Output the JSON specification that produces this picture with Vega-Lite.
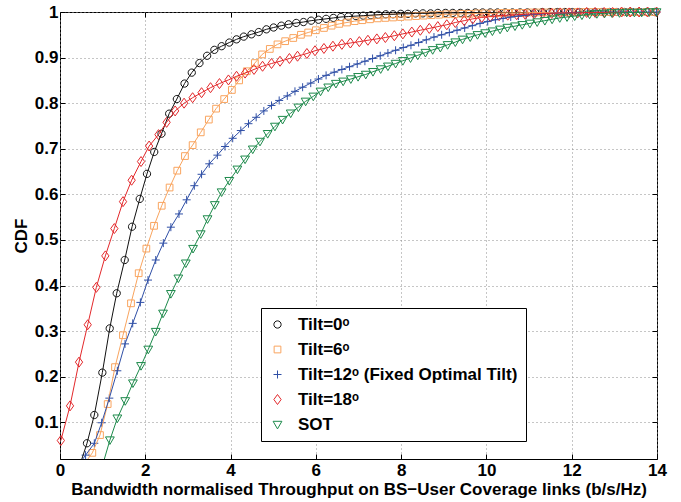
{
"$schema":"https://vega.github.io/schema/vega-lite/v6.json",
"width":597,"height":447,
"autosize":{"type":"none"},
"padding":{"left":60,"top":12,"right":24,"bottom":43},
"background":"white",
"config":{
 "view":{"stroke":"black","strokeWidth":1},
 "axis":{"labelFont":"Liberation Sans","labelFontSize":17,"labelFontWeight":"bold","labelColor":"black","titleFont":"Liberation Sans","titleFontSize":17,"titleFontWeight":"bold","titleColor":"black","gridColor":"#8c8c8c","gridDash":[1,3],"gridWidth":1,"domain":false,"tickColor":"black","tickSize":-5,"labelFlush":false,"labelOverlap":false},
 "legend":{"orient":"none","legendX":201,"legendY":296}
},
"data":{"values":[
{"s":"Tilt=0ᵒ","x":0.458,"y":0.004},{"s":"Tilt=0ᵒ","x":0.633,"y":0.054},{"s":"Tilt=0ᵒ","x":0.805,"y":0.116},{"s":"Tilt=0ᵒ","x":0.993,"y":0.209},{"s":"Tilt=0ᵒ","x":1.166,"y":0.306},{"s":"Tilt=0ᵒ","x":1.33,"y":0.383},{"s":"Tilt=0ᵒ","x":1.517,"y":0.456},{"s":"Tilt=0ᵒ","x":1.69,"y":0.529},{"s":"Tilt=0ᵒ","x":1.87,"y":0.59},{"s":"Tilt=0ᵒ","x":2.04,"y":0.645},{"s":"Tilt=0ᵒ","x":2.21,"y":0.693},{"s":"Tilt=0ᵒ","x":2.38,"y":0.733},{"s":"Tilt=0ᵒ","x":2.56,"y":0.777},{"s":"Tilt=0ᵒ","x":2.74,"y":0.809},{"s":"Tilt=0ᵒ","x":2.92,"y":0.843},{"s":"Tilt=0ᵒ","x":3.09,"y":0.867},{"s":"Tilt=0ᵒ","x":3.27,"y":0.888},{"s":"Tilt=0ᵒ","x":3.45,"y":0.904},{"s":"Tilt=0ᵒ","x":3.62,"y":0.917},{"s":"Tilt=0ᵒ","x":3.79,"y":0.925},{"s":"Tilt=0ᵒ","x":3.97,"y":0.933},{"s":"Tilt=0ᵒ","x":4.14,"y":0.94},{"s":"Tilt=0ᵒ","x":4.31,"y":0.946},{"s":"Tilt=0ᵒ","x":4.49,"y":0.951},{"s":"Tilt=0ᵒ","x":4.66,"y":0.956},{"s":"Tilt=0ᵒ","x":4.84,"y":0.962},{"s":"Tilt=0ᵒ","x":5.01,"y":0.966},{"s":"Tilt=0ᵒ","x":5.19,"y":0.97},{"s":"Tilt=0ᵒ","x":5.36,"y":0.973},{"s":"Tilt=0ᵒ","x":5.54,"y":0.976},{"s":"Tilt=0ᵒ","x":5.71,"y":0.978},{"s":"Tilt=0ᵒ","x":5.89,"y":0.981},{"s":"Tilt=0ᵒ","x":6.06,"y":0.983},{"s":"Tilt=0ᵒ","x":6.24,"y":0.985},{"s":"Tilt=0ᵒ","x":6.41,"y":0.987},{"s":"Tilt=0ᵒ","x":6.59,"y":0.989},{"s":"Tilt=0ᵒ","x":6.76,"y":0.99},{"s":"Tilt=0ᵒ","x":6.94,"y":0.991},{"s":"Tilt=0ᵒ","x":7.11,"y":0.992},{"s":"Tilt=0ᵒ","x":7.29,"y":0.993},{"s":"Tilt=0ᵒ","x":7.46,"y":0.994},{"s":"Tilt=0ᵒ","x":7.64,"y":0.995},{"s":"Tilt=0ᵒ","x":7.81,"y":0.995},{"s":"Tilt=0ᵒ","x":7.99,"y":0.996},{"s":"Tilt=0ᵒ","x":8.16,"y":0.996},{"s":"Tilt=0ᵒ","x":8.34,"y":0.997},{"s":"Tilt=0ᵒ","x":8.51,"y":0.997},{"s":"Tilt=0ᵒ","x":8.69,"y":0.997},{"s":"Tilt=0ᵒ","x":8.86,"y":0.998},{"s":"Tilt=0ᵒ","x":9.04,"y":0.998},{"s":"Tilt=0ᵒ","x":9.21,"y":0.998},{"s":"Tilt=0ᵒ","x":9.39,"y":0.998},{"s":"Tilt=0ᵒ","x":9.56,"y":0.998},{"s":"Tilt=0ᵒ","x":9.74,"y":0.999},{"s":"Tilt=0ᵒ","x":9.91,"y":0.999},{"s":"Tilt=0ᵒ","x":10.09,"y":0.999},{"s":"Tilt=0ᵒ","x":10.26,"y":0.999},{"s":"Tilt=0ᵒ","x":10.44,"y":0.999},{"s":"Tilt=0ᵒ","x":10.61,"y":0.999},{"s":"Tilt=0ᵒ","x":10.79,"y":0.999},{"s":"Tilt=0ᵒ","x":10.96,"y":0.999},{"s":"Tilt=0ᵒ","x":11.14,"y":0.999},{"s":"Tilt=0ᵒ","x":11.31,"y":1},{"s":"Tilt=0ᵒ","x":11.49,"y":1},{"s":"Tilt=0ᵒ","x":11.66,"y":1},{"s":"Tilt=0ᵒ","x":11.84,"y":1},{"s":"Tilt=0ᵒ","x":12.01,"y":1},{"s":"Tilt=0ᵒ","x":12.19,"y":1},{"s":"Tilt=0ᵒ","x":12.36,"y":1},{"s":"Tilt=0ᵒ","x":12.54,"y":1},{"s":"Tilt=0ᵒ","x":12.71,"y":1},{"s":"Tilt=0ᵒ","x":12.89,"y":1},{"s":"Tilt=0ᵒ","x":13.06,"y":1},{"s":"Tilt=0ᵒ","x":13.24,"y":1},{"s":"Tilt=0ᵒ","x":13.41,"y":1},{"s":"Tilt=0ᵒ","x":13.59,"y":1},{"s":"Tilt=0ᵒ","x":13.76,"y":1},{"s":"Tilt=0ᵒ","x":13.94,"y":1},
{"s":"Tilt=6ᵒ","x":0.58,"y":0.01},{"s":"Tilt=6ᵒ","x":0.758,"y":0.033},{"s":"Tilt=6ᵒ","x":0.938,"y":0.072},{"s":"Tilt=6ᵒ","x":1.118,"y":0.14},{"s":"Tilt=6ᵒ","x":1.29,"y":0.221},{"s":"Tilt=6ᵒ","x":1.477,"y":0.291},{"s":"Tilt=6ᵒ","x":1.665,"y":0.361},{"s":"Tilt=6ᵒ","x":1.845,"y":0.427},{"s":"Tilt=6ᵒ","x":2.025,"y":0.481},{"s":"Tilt=6ᵒ","x":2.205,"y":0.531},{"s":"Tilt=6ᵒ","x":2.385,"y":0.575},{"s":"Tilt=6ᵒ","x":2.57,"y":0.615},{"s":"Tilt=6ᵒ","x":2.75,"y":0.652},{"s":"Tilt=6ᵒ","x":2.93,"y":0.684},{"s":"Tilt=6ᵒ","x":3.11,"y":0.708},{"s":"Tilt=6ᵒ","x":3.3,"y":0.736},{"s":"Tilt=6ᵒ","x":3.49,"y":0.764},{"s":"Tilt=6ᵒ","x":3.66,"y":0.788},{"s":"Tilt=6ᵒ","x":3.85,"y":0.809},{"s":"Tilt=6ᵒ","x":4.03,"y":0.829},{"s":"Tilt=6ᵒ","x":4.2,"y":0.85},{"s":"Tilt=6ᵒ","x":4.38,"y":0.87},{"s":"Tilt=6ᵒ","x":4.57,"y":0.888},{"s":"Tilt=6ᵒ","x":4.74,"y":0.907},{"s":"Tilt=6ᵒ","x":4.92,"y":0.919},{"s":"Tilt=6ᵒ","x":5.1,"y":0.929},{"s":"Tilt=6ᵒ","x":5.28,"y":0.936},{"s":"Tilt=6ᵒ","x":5.47,"y":0.943},{"s":"Tilt=6ᵒ","x":5.65,"y":0.95},{"s":"Tilt=6ᵒ","x":5.82,"y":0.955},{"s":"Tilt=6ᵒ","x":6.0,"y":0.96},{"s":"Tilt=6ᵒ","x":6.19,"y":0.965},{"s":"Tilt=6ᵒ","x":6.37,"y":0.97},{"s":"Tilt=6ᵒ","x":6.55,"y":0.974},{"s":"Tilt=6ᵒ","x":6.73,"y":0.977},{"s":"Tilt=6ᵒ","x":6.91,"y":0.98},{"s":"Tilt=6ᵒ","x":7.09,"y":0.982},{"s":"Tilt=6ᵒ","x":7.27,"y":0.984},{"s":"Tilt=6ᵒ","x":7.45,"y":0.986},{"s":"Tilt=6ᵒ","x":7.63,"y":0.987},{"s":"Tilt=6ᵒ","x":7.81,"y":0.988},{"s":"Tilt=6ᵒ","x":7.99,"y":0.989},{"s":"Tilt=6ᵒ","x":8.17,"y":0.99},{"s":"Tilt=6ᵒ","x":8.35,"y":0.991},{"s":"Tilt=6ᵒ","x":8.53,"y":0.992},{"s":"Tilt=6ᵒ","x":8.71,"y":0.993},{"s":"Tilt=6ᵒ","x":8.89,"y":0.994},{"s":"Tilt=6ᵒ","x":9.07,"y":0.995},{"s":"Tilt=6ᵒ","x":9.25,"y":0.995},{"s":"Tilt=6ᵒ","x":9.43,"y":0.996},{"s":"Tilt=6ᵒ","x":9.61,"y":0.996},{"s":"Tilt=6ᵒ","x":9.79,"y":0.997},{"s":"Tilt=6ᵒ","x":9.97,"y":0.997},{"s":"Tilt=6ᵒ","x":10.15,"y":0.997},{"s":"Tilt=6ᵒ","x":10.33,"y":0.998},{"s":"Tilt=6ᵒ","x":10.51,"y":0.998},{"s":"Tilt=6ᵒ","x":10.69,"y":0.998},{"s":"Tilt=6ᵒ","x":10.87,"y":0.998},{"s":"Tilt=6ᵒ","x":11.05,"y":0.999},{"s":"Tilt=6ᵒ","x":11.23,"y":0.999},{"s":"Tilt=6ᵒ","x":11.41,"y":0.999},{"s":"Tilt=6ᵒ","x":11.59,"y":0.999},{"s":"Tilt=6ᵒ","x":11.77,"y":0.999},{"s":"Tilt=6ᵒ","x":11.95,"y":0.999},{"s":"Tilt=6ᵒ","x":12.13,"y":1},{"s":"Tilt=6ᵒ","x":12.31,"y":1},{"s":"Tilt=6ᵒ","x":12.49,"y":1},{"s":"Tilt=6ᵒ","x":12.67,"y":1},{"s":"Tilt=6ᵒ","x":12.85,"y":1},{"s":"Tilt=6ᵒ","x":13.03,"y":1},{"s":"Tilt=6ᵒ","x":13.21,"y":1},{"s":"Tilt=6ᵒ","x":13.39,"y":1},{"s":"Tilt=6ᵒ","x":13.57,"y":1},{"s":"Tilt=6ᵒ","x":13.75,"y":1},{"s":"Tilt=6ᵒ","x":13.93,"y":1},
{"s":"Tilt=12ᵒ (Fixed Optimal Tilt)","x":0.42,"y":0.005},{"s":"Tilt=12ᵒ (Fixed Optimal Tilt)","x":0.6,"y":0.028},{"s":"Tilt=12ᵒ (Fixed Optimal Tilt)","x":0.805,"y":0.054},{"s":"Tilt=12ᵒ (Fixed Optimal Tilt)","x":0.977,"y":0.099},{"s":"Tilt=12ᵒ (Fixed Optimal Tilt)","x":1.157,"y":0.153},{"s":"Tilt=12ᵒ (Fixed Optimal Tilt)","x":1.345,"y":0.213},{"s":"Tilt=12ᵒ (Fixed Optimal Tilt)","x":1.525,"y":0.272},{"s":"Tilt=12ᵒ (Fixed Optimal Tilt)","x":1.705,"y":0.317},{"s":"Tilt=12ᵒ (Fixed Optimal Tilt)","x":1.885,"y":0.363},{"s":"Tilt=12ᵒ (Fixed Optimal Tilt)","x":2.064,"y":0.412},{"s":"Tilt=12ᵒ (Fixed Optimal Tilt)","x":2.245,"y":0.456},{"s":"Tilt=12ᵒ (Fixed Optimal Tilt)","x":2.423,"y":0.493},{"s":"Tilt=12ᵒ (Fixed Optimal Tilt)","x":2.6,"y":0.528},{"s":"Tilt=12ᵒ (Fixed Optimal Tilt)","x":2.79,"y":0.557},{"s":"Tilt=12ᵒ (Fixed Optimal Tilt)","x":2.97,"y":0.588},{"s":"Tilt=12ᵒ (Fixed Optimal Tilt)","x":3.15,"y":0.619},{"s":"Tilt=12ᵒ (Fixed Optimal Tilt)","x":3.32,"y":0.644},{"s":"Tilt=12ᵒ (Fixed Optimal Tilt)","x":3.5,"y":0.667},{"s":"Tilt=12ᵒ (Fixed Optimal Tilt)","x":3.69,"y":0.686},{"s":"Tilt=12ᵒ (Fixed Optimal Tilt)","x":3.87,"y":0.705},{"s":"Tilt=12ᵒ (Fixed Optimal Tilt)","x":4.05,"y":0.723},{"s":"Tilt=12ᵒ (Fixed Optimal Tilt)","x":4.24,"y":0.74},{"s":"Tilt=12ᵒ (Fixed Optimal Tilt)","x":4.42,"y":0.755},{"s":"Tilt=12ᵒ (Fixed Optimal Tilt)","x":4.6,"y":0.769},{"s":"Tilt=12ᵒ (Fixed Optimal Tilt)","x":4.78,"y":0.783},{"s":"Tilt=12ᵒ (Fixed Optimal Tilt)","x":4.96,"y":0.795},{"s":"Tilt=12ᵒ (Fixed Optimal Tilt)","x":5.14,"y":0.806},{"s":"Tilt=12ᵒ (Fixed Optimal Tilt)","x":5.33,"y":0.816},{"s":"Tilt=12ᵒ (Fixed Optimal Tilt)","x":5.51,"y":0.826},{"s":"Tilt=12ᵒ (Fixed Optimal Tilt)","x":5.69,"y":0.835},{"s":"Tilt=12ᵒ (Fixed Optimal Tilt)","x":5.88,"y":0.844},{"s":"Tilt=12ᵒ (Fixed Optimal Tilt)","x":6.06,"y":0.853},{"s":"Tilt=12ᵒ (Fixed Optimal Tilt)","x":6.24,"y":0.861},{"s":"Tilt=12ᵒ (Fixed Optimal Tilt)","x":6.43,"y":0.868},{"s":"Tilt=12ᵒ (Fixed Optimal Tilt)","x":6.61,"y":0.874},{"s":"Tilt=12ᵒ (Fixed Optimal Tilt)","x":6.79,"y":0.88},{"s":"Tilt=12ᵒ (Fixed Optimal Tilt)","x":6.97,"y":0.886},{"s":"Tilt=12ᵒ (Fixed Optimal Tilt)","x":7.15,"y":0.892},{"s":"Tilt=12ᵒ (Fixed Optimal Tilt)","x":7.33,"y":0.898},{"s":"Tilt=12ᵒ (Fixed Optimal Tilt)","x":7.51,"y":0.904},{"s":"Tilt=12ᵒ (Fixed Optimal Tilt)","x":7.69,"y":0.91},{"s":"Tilt=12ᵒ (Fixed Optimal Tilt)","x":7.87,"y":0.916},{"s":"Tilt=12ᵒ (Fixed Optimal Tilt)","x":8.05,"y":0.922},{"s":"Tilt=12ᵒ (Fixed Optimal Tilt)","x":8.23,"y":0.927},{"s":"Tilt=12ᵒ (Fixed Optimal Tilt)","x":8.41,"y":0.933},{"s":"Tilt=12ᵒ (Fixed Optimal Tilt)","x":8.59,"y":0.939},{"s":"Tilt=12ᵒ (Fixed Optimal Tilt)","x":8.77,"y":0.945},{"s":"Tilt=12ᵒ (Fixed Optimal Tilt)","x":8.95,"y":0.95},{"s":"Tilt=12ᵒ (Fixed Optimal Tilt)","x":9.13,"y":0.955},{"s":"Tilt=12ᵒ (Fixed Optimal Tilt)","x":9.31,"y":0.96},{"s":"Tilt=12ᵒ (Fixed Optimal Tilt)","x":9.49,"y":0.965},{"s":"Tilt=12ᵒ (Fixed Optimal Tilt)","x":9.67,"y":0.97},{"s":"Tilt=12ᵒ (Fixed Optimal Tilt)","x":9.85,"y":0.975},{"s":"Tilt=12ᵒ (Fixed Optimal Tilt)","x":10.03,"y":0.979},{"s":"Tilt=12ᵒ (Fixed Optimal Tilt)","x":10.21,"y":0.983},{"s":"Tilt=12ᵒ (Fixed Optimal Tilt)","x":10.39,"y":0.986},{"s":"Tilt=12ᵒ (Fixed Optimal Tilt)","x":10.57,"y":0.989},{"s":"Tilt=12ᵒ (Fixed Optimal Tilt)","x":10.75,"y":0.991},{"s":"Tilt=12ᵒ (Fixed Optimal Tilt)","x":10.93,"y":0.993},{"s":"Tilt=12ᵒ (Fixed Optimal Tilt)","x":11.11,"y":0.995},{"s":"Tilt=12ᵒ (Fixed Optimal Tilt)","x":11.29,"y":0.996},{"s":"Tilt=12ᵒ (Fixed Optimal Tilt)","x":11.47,"y":0.997},{"s":"Tilt=12ᵒ (Fixed Optimal Tilt)","x":11.65,"y":0.998},{"s":"Tilt=12ᵒ (Fixed Optimal Tilt)","x":11.83,"y":0.998},{"s":"Tilt=12ᵒ (Fixed Optimal Tilt)","x":12.01,"y":0.999},{"s":"Tilt=12ᵒ (Fixed Optimal Tilt)","x":12.19,"y":0.999},{"s":"Tilt=12ᵒ (Fixed Optimal Tilt)","x":12.37,"y":0.999},{"s":"Tilt=12ᵒ (Fixed Optimal Tilt)","x":12.55,"y":1},{"s":"Tilt=12ᵒ (Fixed Optimal Tilt)","x":12.73,"y":1},{"s":"Tilt=12ᵒ (Fixed Optimal Tilt)","x":12.91,"y":1},{"s":"Tilt=12ᵒ (Fixed Optimal Tilt)","x":13.09,"y":1},{"s":"Tilt=12ᵒ (Fixed Optimal Tilt)","x":13.27,"y":1},{"s":"Tilt=12ᵒ (Fixed Optimal Tilt)","x":13.45,"y":1},{"s":"Tilt=12ᵒ (Fixed Optimal Tilt)","x":13.63,"y":1},{"s":"Tilt=12ᵒ (Fixed Optimal Tilt)","x":13.81,"y":1},{"s":"Tilt=12ᵒ (Fixed Optimal Tilt)","x":13.99,"y":1},
{"s":"Tilt=18ᵒ","x":0.02,"y":0.06},{"s":"Tilt=18ᵒ","x":0.235,"y":0.136},{"s":"Tilt=18ᵒ","x":0.446,"y":0.232},{"s":"Tilt=18ᵒ","x":0.65,"y":0.314},{"s":"Tilt=18ᵒ","x":0.852,"y":0.396},{"s":"Tilt=18ᵒ","x":1.063,"y":0.465},{"s":"Tilt=18ᵒ","x":1.274,"y":0.525},{"s":"Tilt=18ᵒ","x":1.478,"y":0.584},{"s":"Tilt=18ᵒ","x":1.68,"y":0.631},{"s":"Tilt=18ᵒ","x":1.9,"y":0.672},{"s":"Tilt=18ᵒ","x":2.09,"y":0.706},{"s":"Tilt=18ᵒ","x":2.31,"y":0.731},{"s":"Tilt=18ᵒ","x":2.5,"y":0.758},{"s":"Tilt=18ᵒ","x":2.7,"y":0.783},{"s":"Tilt=18ᵒ","x":2.91,"y":0.8},{"s":"Tilt=18ᵒ","x":3.11,"y":0.812},{"s":"Tilt=18ᵒ","x":3.32,"y":0.823},{"s":"Tilt=18ᵒ","x":3.53,"y":0.834},{"s":"Tilt=18ᵒ","x":3.74,"y":0.843},{"s":"Tilt=18ᵒ","x":3.95,"y":0.851},{"s":"Tilt=18ᵒ","x":4.14,"y":0.859},{"s":"Tilt=18ᵒ","x":4.34,"y":0.866},{"s":"Tilt=18ᵒ","x":4.55,"y":0.874},{"s":"Tilt=18ᵒ","x":4.75,"y":0.881},{"s":"Tilt=18ᵒ","x":4.96,"y":0.887},{"s":"Tilt=18ᵒ","x":5.16,"y":0.892},{"s":"Tilt=18ᵒ","x":5.38,"y":0.898},{"s":"Tilt=18ᵒ","x":5.57,"y":0.903},{"s":"Tilt=18ᵒ","x":5.79,"y":0.909},{"s":"Tilt=18ᵒ","x":5.98,"y":0.915},{"s":"Tilt=18ᵒ","x":6.19,"y":0.92},{"s":"Tilt=18ᵒ","x":6.4,"y":0.925},{"s":"Tilt=18ᵒ","x":6.61,"y":0.929},{"s":"Tilt=18ᵒ","x":6.81,"y":0.932},{"s":"Tilt=18ᵒ","x":7.02,"y":0.935},{"s":"Tilt=18ᵒ","x":7.22,"y":0.938},{"s":"Tilt=18ᵒ","x":7.43,"y":0.941},{"s":"Tilt=18ᵒ","x":7.63,"y":0.944},{"s":"Tilt=18ᵒ","x":7.84,"y":0.948},{"s":"Tilt=18ᵒ","x":8.04,"y":0.952},{"s":"Tilt=18ᵒ","x":8.25,"y":0.956},{"s":"Tilt=18ᵒ","x":8.45,"y":0.96},{"s":"Tilt=18ᵒ","x":8.66,"y":0.964},{"s":"Tilt=18ᵒ","x":8.86,"y":0.968},{"s":"Tilt=18ᵒ","x":9.07,"y":0.972},{"s":"Tilt=18ᵒ","x":9.27,"y":0.977},{"s":"Tilt=18ᵒ","x":9.48,"y":0.981},{"s":"Tilt=18ᵒ","x":9.68,"y":0.985},{"s":"Tilt=18ᵒ","x":9.89,"y":0.988},{"s":"Tilt=18ᵒ","x":10.09,"y":0.99},{"s":"Tilt=18ᵒ","x":10.3,"y":0.992},{"s":"Tilt=18ᵒ","x":10.5,"y":0.993},{"s":"Tilt=18ᵒ","x":10.71,"y":0.994},{"s":"Tilt=18ᵒ","x":10.91,"y":0.995},{"s":"Tilt=18ᵒ","x":11.12,"y":0.996},{"s":"Tilt=18ᵒ","x":11.32,"y":0.997},{"s":"Tilt=18ᵒ","x":11.53,"y":0.997},{"s":"Tilt=18ᵒ","x":11.73,"y":0.998},{"s":"Tilt=18ᵒ","x":11.94,"y":0.998},{"s":"Tilt=18ᵒ","x":12.14,"y":0.998},{"s":"Tilt=18ᵒ","x":12.35,"y":0.999},{"s":"Tilt=18ᵒ","x":12.55,"y":0.999},{"s":"Tilt=18ᵒ","x":12.76,"y":0.999},{"s":"Tilt=18ᵒ","x":12.96,"y":0.999},{"s":"Tilt=18ᵒ","x":13.17,"y":1},{"s":"Tilt=18ᵒ","x":13.37,"y":1},{"s":"Tilt=18ᵒ","x":13.58,"y":1},{"s":"Tilt=18ᵒ","x":13.78,"y":1},{"s":"Tilt=18ᵒ","x":13.99,"y":1},
{"s":"SOT","x":0.995,"y":0.005},{"s":"SOT","x":1.17,"y":0.061},{"s":"SOT","x":1.345,"y":0.109},{"s":"SOT","x":1.53,"y":0.147},{"s":"SOT","x":1.71,"y":0.186},{"s":"SOT","x":1.9,"y":0.224},{"s":"SOT","x":2.07,"y":0.26},{"s":"SOT","x":2.245,"y":0.299},{"s":"SOT","x":2.416,"y":0.339},{"s":"SOT","x":2.6,"y":0.382},{"s":"SOT","x":2.775,"y":0.416},{"s":"SOT","x":2.95,"y":0.449},{"s":"SOT","x":3.12,"y":0.481},{"s":"SOT","x":3.3,"y":0.513},{"s":"SOT","x":3.46,"y":0.546},{"s":"SOT","x":3.63,"y":0.577},{"s":"SOT","x":3.79,"y":0.605},{"s":"SOT","x":3.97,"y":0.63},{"s":"SOT","x":4.16,"y":0.655},{"s":"SOT","x":4.34,"y":0.677},{"s":"SOT","x":4.52,"y":0.699},{"s":"SOT","x":4.69,"y":0.716},{"s":"SOT","x":4.87,"y":0.733},{"s":"SOT","x":5.04,"y":0.749},{"s":"SOT","x":5.22,"y":0.764},{"s":"SOT","x":5.41,"y":0.778},{"s":"SOT","x":5.59,"y":0.791},{"s":"SOT","x":5.76,"y":0.804},{"s":"SOT","x":5.94,"y":0.815},{"s":"SOT","x":6.11,"y":0.826},{"s":"SOT","x":6.29,"y":0.835},{"s":"SOT","x":6.47,"y":0.843},{"s":"SOT","x":6.64,"y":0.848},{"s":"SOT","x":6.82,"y":0.853},{"s":"SOT","x":6.99,"y":0.858},{"s":"SOT","x":7.17,"y":0.863},{"s":"SOT","x":7.34,"y":0.869},{"s":"SOT","x":7.52,"y":0.875},{"s":"SOT","x":7.69,"y":0.881},{"s":"SOT","x":7.87,"y":0.887},{"s":"SOT","x":8.04,"y":0.893},{"s":"SOT","x":8.22,"y":0.899},{"s":"SOT","x":8.39,"y":0.905},{"s":"SOT","x":8.57,"y":0.911},{"s":"SOT","x":8.74,"y":0.917},{"s":"SOT","x":8.92,"y":0.922},{"s":"SOT","x":9.09,"y":0.928},{"s":"SOT","x":9.27,"y":0.934},{"s":"SOT","x":9.44,"y":0.94},{"s":"SOT","x":9.62,"y":0.945},{"s":"SOT","x":9.79,"y":0.95},{"s":"SOT","x":9.97,"y":0.954},{"s":"SOT","x":10.14,"y":0.958},{"s":"SOT","x":10.32,"y":0.962},{"s":"SOT","x":10.49,"y":0.966},{"s":"SOT","x":10.67,"y":0.969},{"s":"SOT","x":10.84,"y":0.972},{"s":"SOT","x":11.02,"y":0.975},{"s":"SOT","x":11.19,"y":0.978},{"s":"SOT","x":11.37,"y":0.981},{"s":"SOT","x":11.54,"y":0.984},{"s":"SOT","x":11.72,"y":0.987},{"s":"SOT","x":11.89,"y":0.989},{"s":"SOT","x":12.07,"y":0.991},{"s":"SOT","x":12.24,"y":0.993},{"s":"SOT","x":12.42,"y":0.995},{"s":"SOT","x":12.59,"y":0.996},{"s":"SOT","x":12.77,"y":0.997},{"s":"SOT","x":12.94,"y":0.998},{"s":"SOT","x":13.12,"y":0.998},{"s":"SOT","x":13.29,"y":0.999},{"s":"SOT","x":13.47,"y":0.999},{"s":"SOT","x":13.64,"y":0.999},{"s":"SOT","x":13.82,"y":1},{"s":"SOT","x":13.99,"y":1}
]},
"layer":[
 {"transform":[{"filter":"datum.y >= 0.0195"}],
  "mark":{"type":"point","filled":false,"strokeWidth":1,"size":64,"opacity":1},
  "encoding":{
   "x":{"field":"x","type":"quantitative","scale":{"domain":[0,14],"nice":false},"axis":{"orient":"top","values":[0,2,4,6,8,10,12,14],"labels":false,"grid":false,"title":null}},
   "y":{"field":"y","type":"quantitative","scale":{"domain":[0.0195,1],"nice":false,"zero":false},"axis":{"orient":"right","values":[0.1,0.2,0.3,0.4,0.5,0.6,0.7,0.8,0.9,1],"labels":false,"grid":false,"title":null}},
   "color":{"field":"s","type":"nominal",
     "scale":{"domain":["Tilt=0ᵒ","Tilt=6ᵒ","Tilt=12ᵒ (Fixed Optimal Tilt)","Tilt=18ᵒ","SOT"],"range":["#111111","#f9a45e","#2f4fa6","#e3282b","#1d8a4b"]},
     "legend":{"title":null,"orient":"none","legendX":201,"legendY":296,"strokeColor":"black","fillColor":"white","padding":8,"labelFont":"Liberation Sans","labelFontSize":17,"labelFontWeight":"bold","labelColor":"black","labelLimit":500,"symbolStrokeWidth":1,"symbolSize":64,"rowPadding":7,"labelOffset":12}},
   "shape":{"field":"s","type":"nominal",
     "scale":{"domain":["Tilt=0ᵒ","Tilt=6ᵒ","Tilt=12ᵒ (Fixed Optimal Tilt)","Tilt=18ᵒ","SOT"],
       "range":["M-0.91,0A0.91,0.91,0,1,0,0.91,0A0.91,0.91,0,1,0,-0.91,0Z","M-0.84,-0.84H0.84V0.84H-0.84Z","M-1,0H1M0,-1V1","M0,-1.25L0.91,0L0,1.25L-0.91,0Z","M-1.1,-0.8H1.1L0,1.1Z"]}}
  }},
 {"mark":{"type":"line","clip":true,"strokeWidth":1},
  "encoding":{
   "x":{"field":"x","type":"quantitative",
        "axis":{"orient":"bottom","values":[0,2,4,6,8,10,12,14],"grid":true,"title":"Bandwidth normalised Throughput on BS−User Coverage links (b/s/Hz)","labelPadding":8,"titlePadding":3}},
   "y":{"field":"y","type":"quantitative",
        "axis":{"orient":"left","values":[0.1,0.2,0.3,0.4,0.5,0.6,0.7,0.8,0.9,1],"format":"~g","grid":true,"title":"CDF","labelPadding":7,"titlePadding":4}},
   "color":{"field":"s","type":"nominal"}
  }}
],
"resolve":{"axis":{"x":"independent","y":"independent"}}
}
